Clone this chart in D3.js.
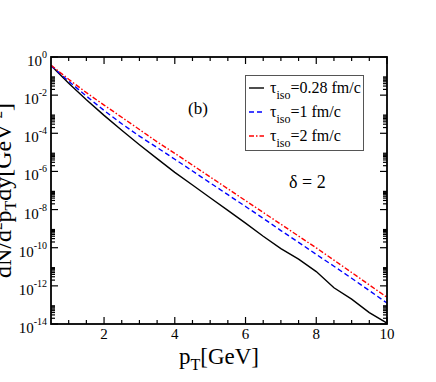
<!DOCTYPE html>
<html>
<head>
<meta charset="utf-8">
<script src="https://cdn.jsdelivr.net/npm/d3@7"></script>
<style>
  body { margin: 0; background: #fff; }
  svg { display: block; font-family: "Liberation Serif", "Times New Roman", serif; }
</style>
</head>
<body>
<svg id="chart" width="436" height="382"></svg>
<script>
const pT = [0.5, 1, 1.5, 2, 2.5, 3, 3.5, 4, 4.5, 5, 5.5, 6, 6.5, 7, 7.5, 8, 8.5, 9, 9.5, 10];

const tau028 = [3.55e-1, 4.17e-2, 5.75e-3, 8.71e-4, 1.45e-4, 2.51e-5, 4.68e-6, 8.91e-7, 1.95e-7, 4.17e-8,
  9.12e-9, 1.95e-9, 3.98e-10, 8.91e-11, 2.51e-11, 5.62e-12, 7.94e-13, 2.00e-13, 3.98e-14, 1.12e-14];
const tau1 = [3.55e-1, 5.37e-2, 8.91e-3, 1.58e-3, 3.16e-4, 7.08e-5, 1.78e-5, 4.37e-6, 1.05e-6, 2.51e-7,
  6.03e-8, 1.45e-8, 3.47e-9, 7.94e-10, 1.91e-10, 4.47e-11, 1.07e-11, 2.51e-12, 5.62e-13, 1.26e-13];
const tau2 = [3.72e-1, 6.76e-2, 1.35e-2, 3.02e-3, 6.92e-4, 1.58e-4, 3.55e-5, 8.91e-6, 2.14e-6, 5.13e-7,
  1.23e-7, 2.95e-8, 7.08e-9, 1.70e-9, 4.07e-10, 9.77e-11, 2.24e-11, 5.01e-12, 1.12e-12, 2.51e-13];

const seriesNames = ['=0.28 fm/c', '=1 fm/c', '=2 fm/c'];
const xTicks = [2, 4, 6, 8, 10];
const yExps = [0, -2, -4, -6, -8, -10, -12, -14];

(() => {
  const svg = d3.select('#chart'),
      x0 = 51, x1 = 387, y0 = 57, y1 = 324;

  const x = d3.scaleLinear().domain([0.5, 10]).range([x0, x1]);
  const y = d3.scaleLog().domain([1e-14, 1]).range([y1, y0]);

  const series = [
    {name: seriesNames[0], values: tau028, color: '#000000', dash: null},
    {name: seriesNames[1], values: tau1, color: '#0000ff', dash: '5,3'},
    {name: seriesNames[2], values: tau2, color: '#ff0000', dash: '5,2,1.5,2'}
  ];

  const line = d3.line()
      .x(d => x(d[0]))
      .y(d => y(d[1]));

  svg.append('clipPath').attr('id', 'clip')
    .append('rect').attr('x', x0).attr('y', y0)
    .attr('width', x1 - x0).attr('height', y1 - y0);

  const plot = svg.append('g').attr('clip-path', 'url(#clip)');
  series.forEach(s => {
    plot.append('path')
        .datum(pT.map((p, i) => [p, s.values[i]]))
        .attr('d', line)
        .attr('fill', 'none')
        .attr('stroke', s.color)
        .attr('stroke-width', 1.4)
        .attr('stroke-dasharray', s.dash);
  });

  // ticks, pointing inward on all four sides
  const ticks = svg.append('g').attr('stroke', '#000').attr('stroke-width', 1.2);
  const xMinor = d3.range(1, 10, 0.5).filter(v => !xTicks.includes(v));
  xTicks.forEach(v => {
    ticks.append('line').attr('x1', x(v)).attr('x2', x(v)).attr('y1', y1).attr('y2', y1 - 7);
    ticks.append('line').attr('x1', x(v)).attr('x2', x(v)).attr('y1', y0).attr('y2', y0 + 7);
  });
  xMinor.forEach(v => {
    ticks.append('line').attr('x1', x(v)).attr('x2', x(v)).attr('y1', y1).attr('y2', y1 - 4);
    ticks.append('line').attr('x1', x(v)).attr('x2', x(v)).attr('y1', y0).attr('y2', y0 + 4);
  });
  yExps.forEach(e => {
    const v = Math.pow(10, e);
    ticks.append('line').attr('x1', x0).attr('x2', x0 + 7).attr('y1', y(v)).attr('y2', y(v));
    ticks.append('line').attr('x1', x1).attr('x2', x1 - 7).attr('y1', y(v)).attr('y2', y(v));
    if (e < 0) {
      d3.range(2, 10).forEach(m => {
        const mv = m * v;
        ticks.append('line').attr('x1', x0).attr('x2', x0 + 4).attr('y1', y(mv)).attr('y2', y(mv));
        ticks.append('line').attr('x1', x1).attr('x2', x1 - 4).attr('y1', y(mv)).attr('y2', y(mv));
      });
    }
  });

  svg.append('rect')
      .attr('x', x0).attr('y', y0)
      .attr('width', x1 - x0).attr('height', y1 - y0)
      .attr('fill', 'none').attr('stroke', '#000').attr('stroke-width', 1.8);

  // tick labels
  svg.append('g').selectAll('text').data(xTicks).enter().append('text')
      .attr('x', d => x(d)).attr('y', 339)
      .attr('text-anchor', 'middle').attr('font-size', 15)
      .text(d => d);

  const yl = svg.append('g').selectAll('text').data(yExps).enter().append('text')
      .attr('x', 47).attr('y', d => y(Math.pow(10, d)) + 9)
      .attr('text-anchor', 'end').attr('font-size', 15);
  yl.append('tspan').text('10');
  yl.append('tspan').attr('dy', -8).attr('font-size', 10).text(d => d === 0 ? '0' : '-' + (-d));

  // axis titles
  const xt = svg.append('text').attr('x', 219).attr('y', 364)
      .attr('text-anchor', 'middle').attr('font-size', 23);
  xt.append('tspan').text('p');
  xt.append('tspan').attr('dy', 6).attr('font-size', 16).text('T');
  xt.append('tspan').attr('dy', -6).text('[GeV]');

  // the reference clips this title at the left edge
  const yt = svg.append('text')
      .attr('transform', `translate(11,${(y0 + y1) / 2}) rotate(-90)`)
      .attr('text-anchor', 'middle').attr('font-size', 24);
  yt.append('tspan').text('dN/d');
  yt.append('tspan').attr('dy', -9).attr('font-size', 15).text('2');
  yt.append('tspan').attr('dy', 9).text('p');
  yt.append('tspan').attr('dy', 5).attr('font-size', 16).text('T');
  yt.append('tspan').attr('dy', -5).text('dy[GeV');
  yt.append('tspan').attr('dy', -9).attr('font-size', 15).text('-2');
  yt.append('tspan').attr('dy', 9).text(']');

  // annotations
  svg.append('text').attr('x', 188).attr('y', 114).attr('font-size', 17).text('(b)');
  svg.append('text').attr('x', 289).attr('y', 188).attr('font-size', 18).text('δ = 2');

  // legend
  const lg = svg.append('g');
  lg.append('rect').attr('x', 245.5).attr('y', 75.5).attr('width', 118).attr('height', 75)
      .attr('fill', '#fff').attr('stroke', '#555').attr('stroke-width', 1);
  series.forEach((s, i) => {
    const ly = 88 + i * 24;
    lg.append('line').attr('x1', 249).attr('x2', 264).attr('y1', ly).attr('y2', ly)
        .attr('stroke', s.color).attr('stroke-width', 1.4).attr('stroke-dasharray', s.dash);
    const t = lg.append('text').attr('x', 270).attr('y', ly + 5).attr('font-size', 16);
    t.append('tspan').text('τ');
    t.append('tspan').attr('dy', 6).attr('font-size', 12).text('iso');
    t.append('tspan').attr('dy', -6).text(s.name);
  });
})();
</script>
</body>
</html>
